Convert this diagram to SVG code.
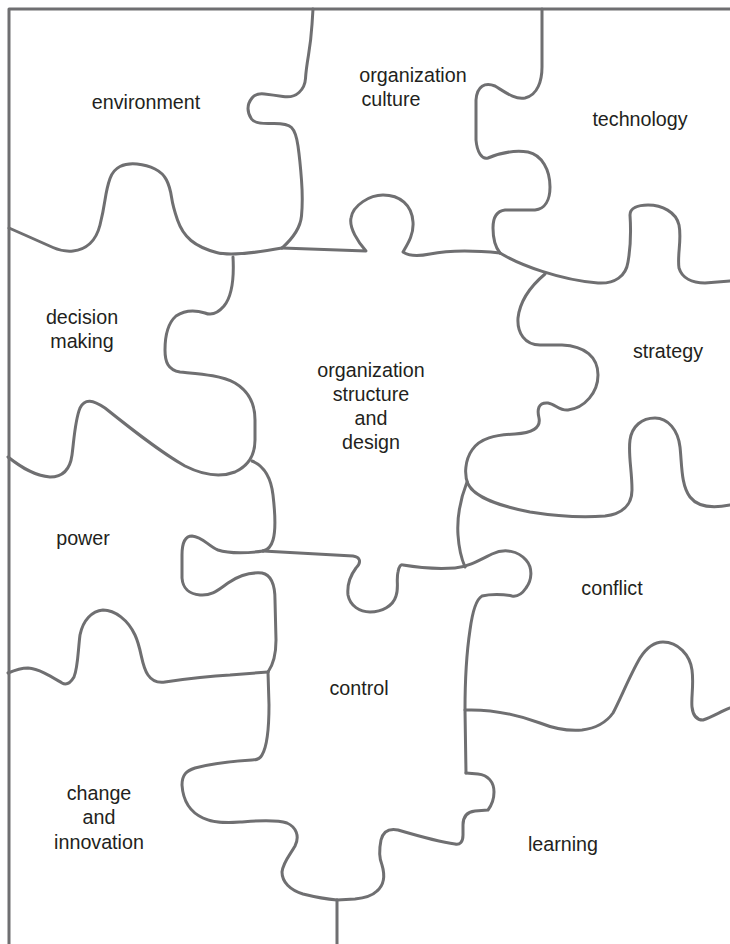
<svg xmlns="http://www.w3.org/2000/svg" width="730" height="944" viewBox="0 0 730 944">
<style>
.edge{fill:none;stroke:#6f6f71;stroke-width:3;stroke-linecap:round;stroke-linejoin:round}
.lbl{font-family:"Liberation Sans",Arial,sans-serif;font-size:19.7px;fill:#231f20;text-anchor:middle}
</style>
<rect width="730" height="944" fill="#ffffff"/>
<g id="edges">
<path class="edge" d="M9,944 L9,9 L730,9"/>
<path class="edge" d="M313,9 L312,24.5 Q311,40 308.5,55 Q306,70 305.5,78.5 Q305,87 299,92.5 Q293,98 283,96.5 Q273,95 264.5,94 Q256,93 252,98 Q248,103 248,108.5 Q248,114 251.5,119 Q255,124 271,123.5 Q287,123 291.5,127.5 Q296,132 298,146 Q300,160 301.5,180 Q303,200 301.5,216 Q300,232 282,248"/>
<path class="edge" d="M9,228 L26,235.5 Q43,243 53,247.5 Q63,252 73,251 Q83,250 90,243.5 Q97,237 100,225 Q103,213 105,200 Q107,187 110,178.5 Q113,170 120,166.5 Q127,163 137,164 Q147,165 155,169 Q163,173 166.5,180 Q170,187 171.5,197 Q173,207 177.5,220 Q182,233 191,240.5 Q200,248 216.5,252.5 Q233,257 282,248"/>
<path class="edge" d="M282,248 L366,251 C358,242 349,228 351,218 C353,205 370,195 383,195 C400,195 412,205 413,222 C414,235 407,245 403,252 C410,257 420,256 430,254 C445,251 470,250 500,253"/>
<path class="edge" d="M542,9 L542,67 C542,80 538,95 525,98 C515,100 505,92 495,86 C485,82 477,86 476,100 L476,140 C477,152 482,160 488,158 C500,153 515,150 528,152 C542,155 550,170 550,187 C550,200 545,209 535,210 L505,210 C496,211 493,218 493,228 C493,240 496,248 500,253"/>
<path class="edge" d="M500,253 C520,265 560,280 598,283 C615,284 626,276 628,262 C631,245 631,230 630,215 C630,208 638,205 648,205 C662,205 676,212 679,225 C682,240 677,255 679,268 C682,278 692,283 705,283 L730,281"/>
<path class="edge" d="M545,274 C532,285 520,300 518,318 C517,333 525,345 540,345 L562,345 C585,346 598,357 598,375 C598,392 585,408 568,410 C560,411 555,404 548,403 C538,402 537,410 539,418 C541,428 532,433 515,434 C495,435 480,438 472,450 C465,460 464,475 468,484 C475,498 500,506 530,512 C555,516 580,518 605,516 C622,514 632,505 632,490 C632,470 628,455 630,440 C632,426 642,418 655,418 C668,418 678,430 680,447 C682,465 681,485 690,497 C697,506 710,509 730,505"/>
<path class="edge" d="M467,482 C460,500 457,520 458,535 C459,550 462,560 465,567"/>
<path class="edge" d="M233,257 C234,275 233,295 224,306 C218,313 212,316 205,313 C195,310 185,310 176,316 C167,324 165,340 165,350 C165,362 168,370 180,372 C200,374 220,375 235,383 C250,392 255,405 255,420 L255,440 C255,455 248,466 235,472 C222,477 205,476 185,466 C160,452 130,428 105,408 C93,400 85,398 80,408 C75,420 74,440 72,455 C70,470 62,477 50,477 C35,476 22,468 8,457"/>
<path class="edge" d="M252,461 C264,466 271,478 273,495 C275,512 276,530 273,540 C271,547 268,550 263,551"/>
<path class="edge" d="M263,551 C250,553 230,554 218,550 C208,546 203,537 192,536 C184,536 182,545 182,555 L182,578 C183,590 190,594 200,595 C212,596 218,590 228,583 C238,576 250,572 262,573 C272,575 275,585 275,600 L276,640 C276,655 273,665 268,672"/>
<path class="edge" d="M263,551 L353,556 C360,557 362,562 356,568 C350,576 347,585 348,595 C350,606 360,612 370,612 C382,612 393,606 396,596 C399,588 396,580 398,572 C399,566 401,564 403,565 C420,568 440,569 455,568 C468,567 480,560 492,554 C505,548 518,551 526,560 C533,568 532,580 526,588 C522,594 518,597 512,596 C503,594 490,594 482,596 C475,600 472,615 470,630 C467,650 465,680 465,710 L466,773"/>
<path class="edge" d="M465,710 C490,709 515,714 540,723 C555,729 570,731 582,730 C598,728 608,720 613,713 C620,700 630,675 640,658 C647,647 655,642 663,642 C678,642 690,655 692,670 C694,685 691,697 692,707 C693,716 697,720 703,720 C712,717 720,712 730,708"/>
<path class="edge" d="M466,773 L478,774 C488,775 494,782 494,792 C494,800 491,806 488,810 L475,811 C466,812 463,817 463,825 L463,835 C463,842 460,845 455,844 C440,842 415,835 398,830 C388,828 383,832 381,840 C379,850 379,858 382,865 C385,875 384,885 377,891 C372,896 365,898 355,899 L337,900"/>
<path class="edge" d="M268,672 L269,705 C269,725 268,745 262,755 C260,759 257,760 252,760 C235,761 210,764 195,768 C186,771 182,775 182,785 C183,800 190,812 203,818 C213,823 225,823 240,822 C255,821 275,819 287,823 C296,827 300,836 295,846 C290,855 283,862 282,872 C282,882 290,890 303,894 C315,897 325,899 337,900"/>
<path class="edge" d="M8,673 C15,670 20,668 28,668 C40,669 52,677 62,683 C67,686 71,682 74,677 C78,668 78,650 80,635 C83,620 92,611 103,610 C115,610 128,620 135,635 C142,650 141,665 148,675 C152,681 158,683 165,682 C185,679 210,676 230,675 L268,672"/>
<path class="edge" d="M337,900 L337,944"/>
</g>
<g id="environment"><text class="lbl" x="146" y="109">environment</text></g>
<g id="organization-culture"><text class="lbl" x="413" y="82">organization</text><text class="lbl" x="391" y="106">culture</text></g>
<g id="technology"><text class="lbl" x="640" y="126">technology</text></g>
<g id="decision-making"><text class="lbl" x="82" y="324">decision</text><text class="lbl" x="82" y="348">making</text></g>
<g id="strategy"><text class="lbl" x="668" y="358">strategy</text></g>
<g id="organization-structure"><text class="lbl" x="371" y="377">organization</text><text class="lbl" x="371" y="401">structure</text><text class="lbl" x="371" y="425">and</text><text class="lbl" x="371" y="449">design</text></g>
<g id="power"><text class="lbl" x="83" y="545">power</text></g>
<g id="conflict"><text class="lbl" x="612" y="595">conflict</text></g>
<g id="control"><text class="lbl" x="359" y="695">control</text></g>
<g id="change-innovation"><text class="lbl" x="99" y="800">change</text><text class="lbl" x="99" y="824">and</text><text class="lbl" x="99" y="849">innovation</text></g>
<g id="learning"><text class="lbl" x="563" y="851">learning</text></g>
</svg>
